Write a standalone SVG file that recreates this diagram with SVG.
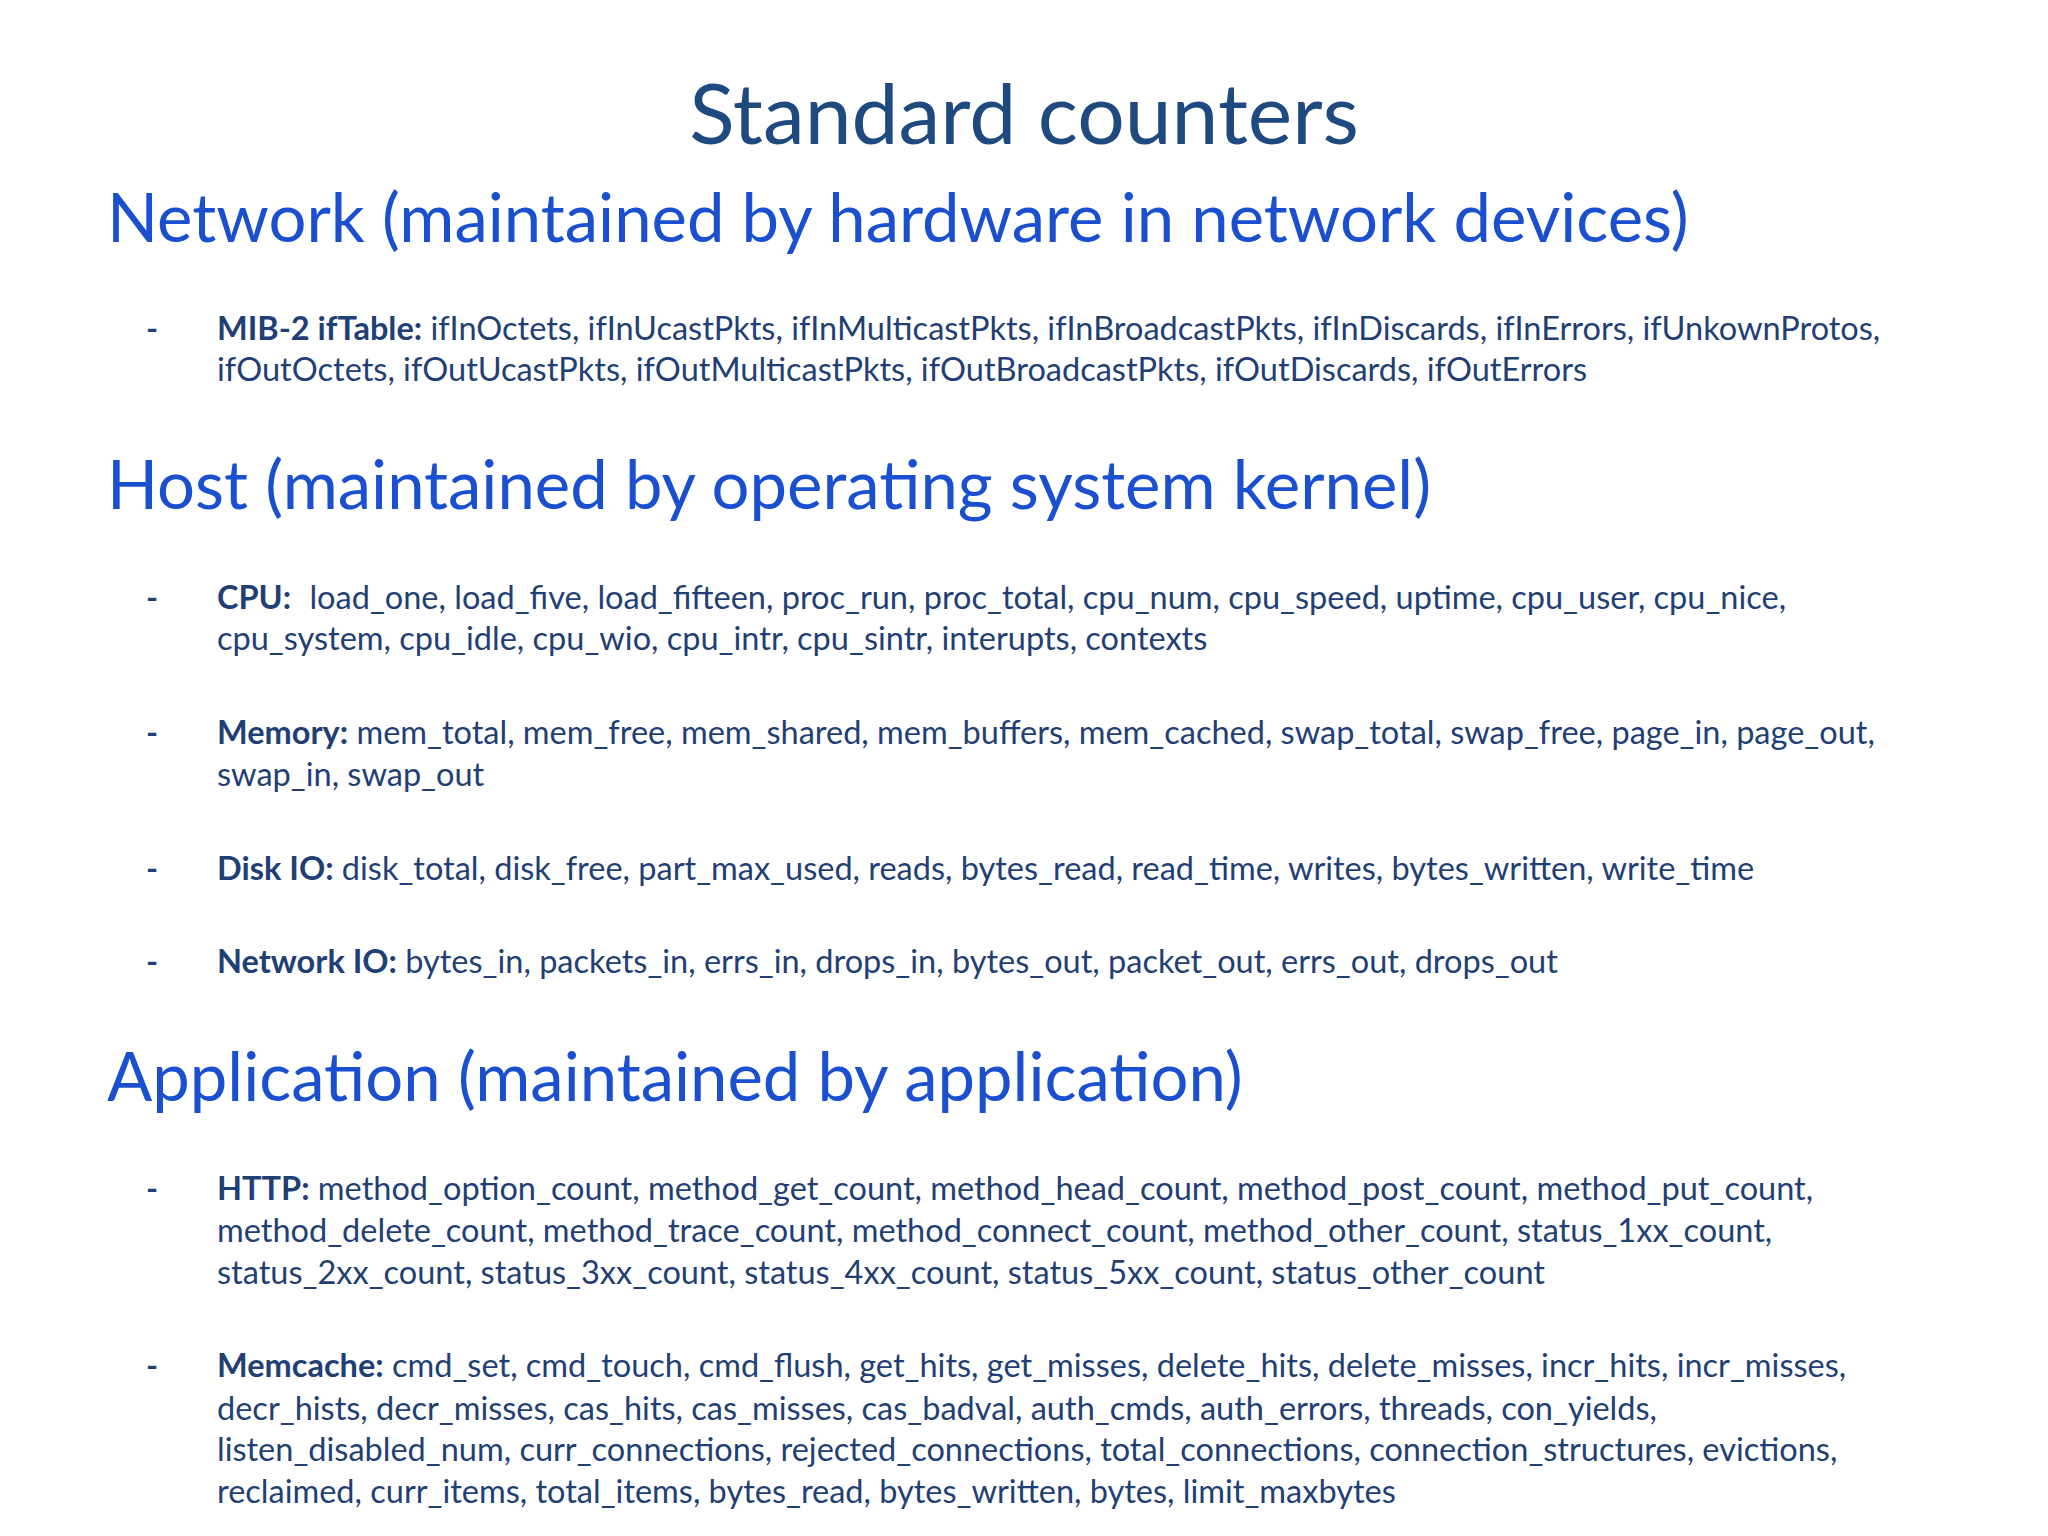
<svg xmlns="http://www.w3.org/2000/svg" width="2048" height="1536" viewBox="0 0 2048 1536">
<style>
.t{font-family:Lato,"Open Sans",sans-serif;fill:#1f4a80;font-size:84px}
.h{font-family:Lato,"Open Sans",sans-serif;fill:#1a4fcf;font-size:67px}
.b{font-family:Lato,"Open Sans",sans-serif;fill:#1f3f75;font-size:32.5px}
.d{font-family:Lato,"Open Sans",sans-serif;fill:#1f3f75;font-size:32.5px;font-weight:bold}
.k{font-weight:bold}
</style>
<rect width="2048" height="1536" fill="#ffffff"/>
<text class="t" x="1024" y="144" text-anchor="middle">Standard counters</text>
<text class="h" x="107" y="242">Network (maintained by hardware in network devices)</text>
<text class="d" x="146" y="340">-</text>
<text class="b" x="217" y="340"><tspan class="k">MIB-2 ifTable:</tspan> ifInOctets, ifInUcastPkts, ifInMulticastPkts, ifInBroadcastPkts, ifInDiscards, ifInErrors, ifUnkownProtos,</text>
<text class="b" x="217" y="381">ifOutOctets, ifOutUcastPkts, ifOutMulticastPkts, ifOutBroadcastPkts, ifOutDiscards, ifOutErrors</text>
<text class="h" x="107" y="509">Host (maintained by operating system kernel)</text>
<text class="d" x="146" y="609">-</text>
<text class="b" x="217" y="609"><tspan class="k">CPU:</tspan><tspan dx="10"> load_one, load_five, load_fifteen, proc_run, proc_total, cpu_num, cpu_speed, uptime, cpu_user, cpu_nice,</tspan></text>
<text class="b" x="217" y="650">cpu_system, cpu_idle, cpu_wio, cpu_intr, cpu_sintr, interupts, contexts</text>
<text class="d" x="146" y="744">-</text>
<text class="b" x="217" y="744"><tspan class="k">Memory:</tspan> mem_total, mem_free, mem_shared, mem_buffers, mem_cached, swap_total, swap_free, page_in, page_out,</text>
<text class="b" x="217" y="786">swap_in, swap_out</text>
<text class="d" x="146" y="880">-</text>
<text class="b" x="217" y="880"><tspan class="k">Disk IO:</tspan> disk_total, disk_free, part_max_used, reads, bytes_read, read_time, writes, bytes_written, write_time</text>
<text class="d" x="146" y="973">-</text>
<text class="b" x="217" y="973"><tspan class="k">Network IO:</tspan> bytes_in, packets_in, errs_in, drops_in, bytes_out, packet_out, errs_out, drops_out</text>
<text class="h" x="107" y="1101">Application (maintained by application)</text>
<text class="d" x="146" y="1200">-</text>
<text class="b" x="217" y="1200"><tspan class="k">HTTP:</tspan> method_option_count, method_get_count, method_head_count, method_post_count, method_put_count,</text>
<text class="b" x="217" y="1242">method_delete_count, method_trace_count, method_connect_count, method_other_count, status_1xx_count,</text>
<text class="b" x="217" y="1284">status_2xx_count, status_3xx_count, status_4xx_count, status_5xx_count, status_other_count</text>
<text class="d" x="146" y="1377">-</text>
<text class="b" x="217" y="1377"><tspan class="k">Memcache:</tspan> cmd_set, cmd_touch, cmd_flush, get_hits, get_misses, delete_hits, delete_misses, incr_hits, incr_misses,</text>
<text class="b" x="217" y="1420">decr_hists, decr_misses, cas_hits, cas_misses, cas_badval, auth_cmds, auth_errors, threads, con_yields,</text>
<text class="b" x="217" y="1461">listen_disabled_num, curr_connections, rejected_connections, total_connections, connection_structures, evictions,</text>
<text class="b" x="217" y="1503">reclaimed, curr_items, total_items, bytes_read, bytes_written, bytes, limit_maxbytes</text>
</svg>
